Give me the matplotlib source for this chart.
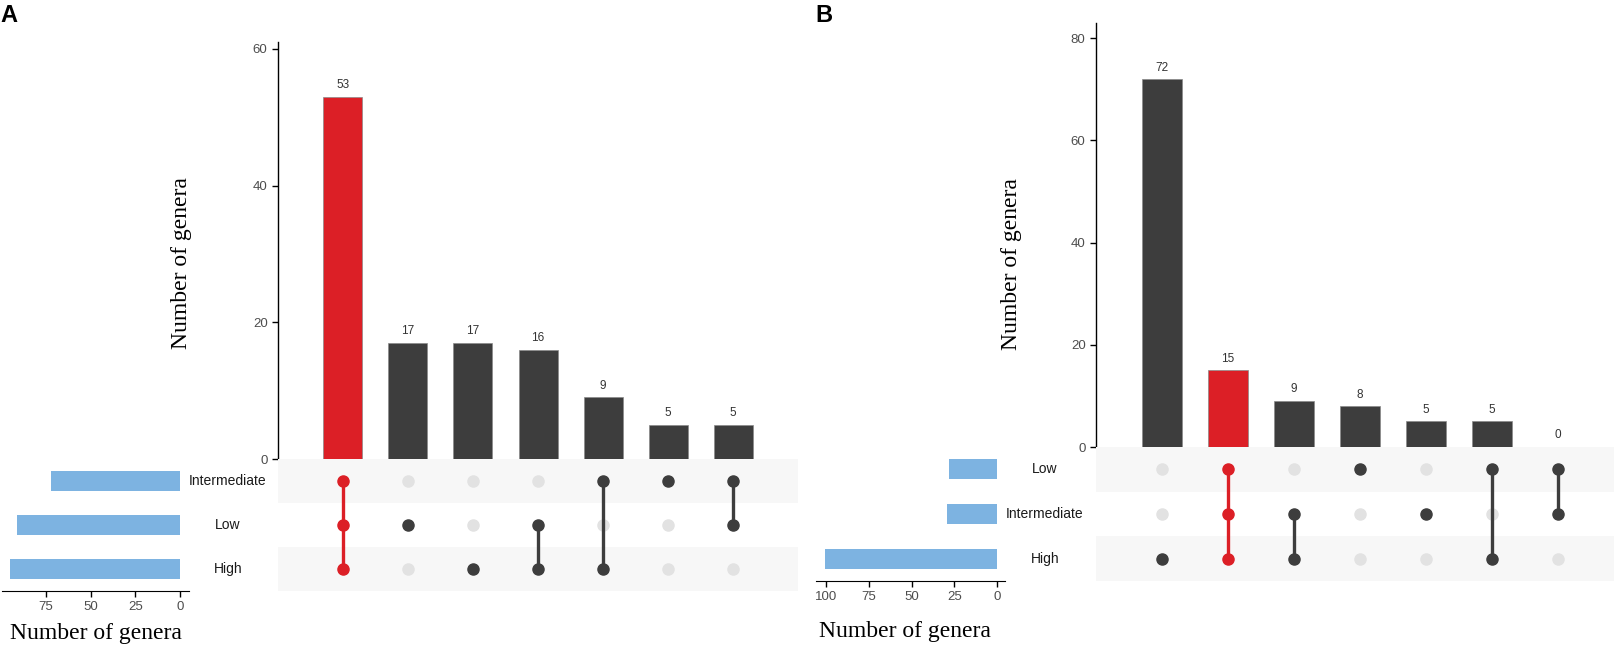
import numpy as np
import matplotlib
matplotlib.use("Agg")
import matplotlib.pyplot as plt

# ---- data ----
sets_a = ["Intermediate", "Low", "High"]
set_size_a = [72, 91, 95]
counts_a = [53, 17, 17, 16, 9, 5, 5]
members_a = [[0, 1, 2], [1], [2], [1, 2], [0, 2], [0], [0, 1]]
highlight_a = 0

sets_b = ["Low", "Intermediate", "High"]
set_size_b = [28, 29, 101]
counts_b = [72, 15, 9, 8, 5, 5, 0]
members_b = [[2], [0, 1, 2], [1, 2], [0], [1], [0, 2], [0, 1]]
highlight_b = 1

RED = "#dc1f26"
DARK = "#3d3d3d"
BLUE = "#7db3e1"
BAND = "#f7f7f7"
EMPTY = "#e2e2e2"
TICKC = "#4d4d4d"

W, H = 1615, 651
plt.rcParams["font.family"] = ["Liberation Sans", "DejaVu Sans"]
fig = plt.figure(figsize=(W / 100, H / 100), dpi=100)


def rect(x0, y0, x1, y1):
    return [x0 / W, 1 - y1 / H, (x1 - x0) / W, (y1 - y0) / H]


def style_ticks(ax, size):
    ax.tick_params(colors="black", labelcolor=TICKC, labelsize=size,
                   length=4, width=1)


def upset(sets, sizes, counts, members, hl, bar_box, mat_box, size_box,
          ytop, ytick_step, size_xlim, label_x, ylab_xy, xlab_xy):
    ncol = len(counts)
    xs = np.arange(1, ncol + 1)
    cols = [RED if i == hl else DARK for i in range(ncol)]

    # intersection bars
    ax = fig.add_axes(rect(*bar_box))
    ax.bar(xs, counts, width=0.6, color=cols, edgecolor="#8a8a8a", linewidth=0.5)
    for x, c in zip(xs, counts):
        ax.annotate(str(c), (x, c), xytext=(0, 4), textcoords="offset points",
                    ha="center", va="bottom", fontsize=8.5, color="#333333")
    ax.set_xlim(0, ncol + 1)
    ax.set_ylim(0, ytop)
    ax.set_yticks(np.arange(0, ytop, ytick_step))
    ax.set_xticks([])
    for s in ["top", "right", "bottom"]:
        ax.spines[s].set_visible(False)
    ax.spines["left"].set_linewidth(1)
    style_ticks(ax, 9.5)

    # matrix
    mx = fig.add_axes(rect(*mat_box))
    nrow = len(sets)
    for r in range(nrow):
        if r % 2 == 0:
            mx.axhspan(r - 0.5, r + 0.5, color=BAND, lw=0, zorder=0)
    for i, m in enumerate(members):
        c = cols[i]
        for r in range(nrow):
            if r in m:
                mx.plot(xs[i], r, "o", ms=8, color=c, zorder=3)
            else:
                mx.plot(xs[i], r, "o", ms=8, color=EMPTY, zorder=2)
        if len(m) > 1:
            mx.plot([xs[i], xs[i]], [min(m), max(m)], color=c, lw=2.4, zorder=2)
    mx.set_xlim(0, ncol + 1)
    mx.set_ylim(nrow - 0.5, -0.5)
    mx.axis("off")

    # set sizes
    sx = fig.add_axes(rect(*size_box))
    sx.barh(np.arange(nrow), sizes, height=0.45, color=BLUE)
    sx.set_xlim(*size_xlim)
    sx.set_ylim(nrow - 0.5, -0.5)
    sx.set_xticks([0, 25, 50, 75] + ([100] if size_xlim[0] > 100 else []))
    sx.set_yticks([])
    for s in ["top", "right", "left"]:
        sx.spines[s].set_visible(False)
    style_ticks(sx, 9.5)

    # set labels
    y0, y1 = mat_box[1], mat_box[3]
    step = (y1 - y0) / nrow
    for r, name in enumerate(sets):
        fig.text(label_x / W, 1 - (y0 + step * (r + 0.5)) / H, name,
                 ha="center", va="center", fontsize=10, color="#1a1a1a")

    fig.text(ylab_xy[0] / W, 1 - ylab_xy[1] / H, "Number of genera",
             rotation=90, ha="center", va="center", fontsize=17,
             family="Liberation Serif")
    fig.text(xlab_xy[0] / W, 1 - xlab_xy[1] / H, "Number of genera",
             ha="center", va="center", fontsize=17, family="Liberation Serif")


# panel A
upset(sets_a, set_size_a, counts_a, members_a, highlight_a,
      bar_box=(278, 42, 798, 459), mat_box=(278, 459, 798, 591),
      size_box=(2, 459, 189, 591), ytop=61, ytick_step=20,
      size_xlim=(99.5, -4.9), label_x=228, ylab_xy=(182, 263), xlab_xy=(96, 634))

# panel B
upset(sets_b, set_size_b, counts_b, members_b, highlight_b,
      bar_box=(1096, 23, 1624, 447), mat_box=(1096, 447, 1624, 581),
      size_box=(816, 447, 1005, 581), ytop=83, ytick_step=20,
      size_xlim=(106, -4.7), label_x=1045, ylab_xy=(1012, 264), xlab_xy=(905, 632))

fig.text(0 / W, 1 - 16 / H, "A", fontsize=17, fontweight="bold", va="center", ha="left")
fig.text(815 / W, 1 - 15 / H, "B", fontsize=17, fontweight="bold", va="center", ha="left")

fig.savefig("out.png", dpi=100)
